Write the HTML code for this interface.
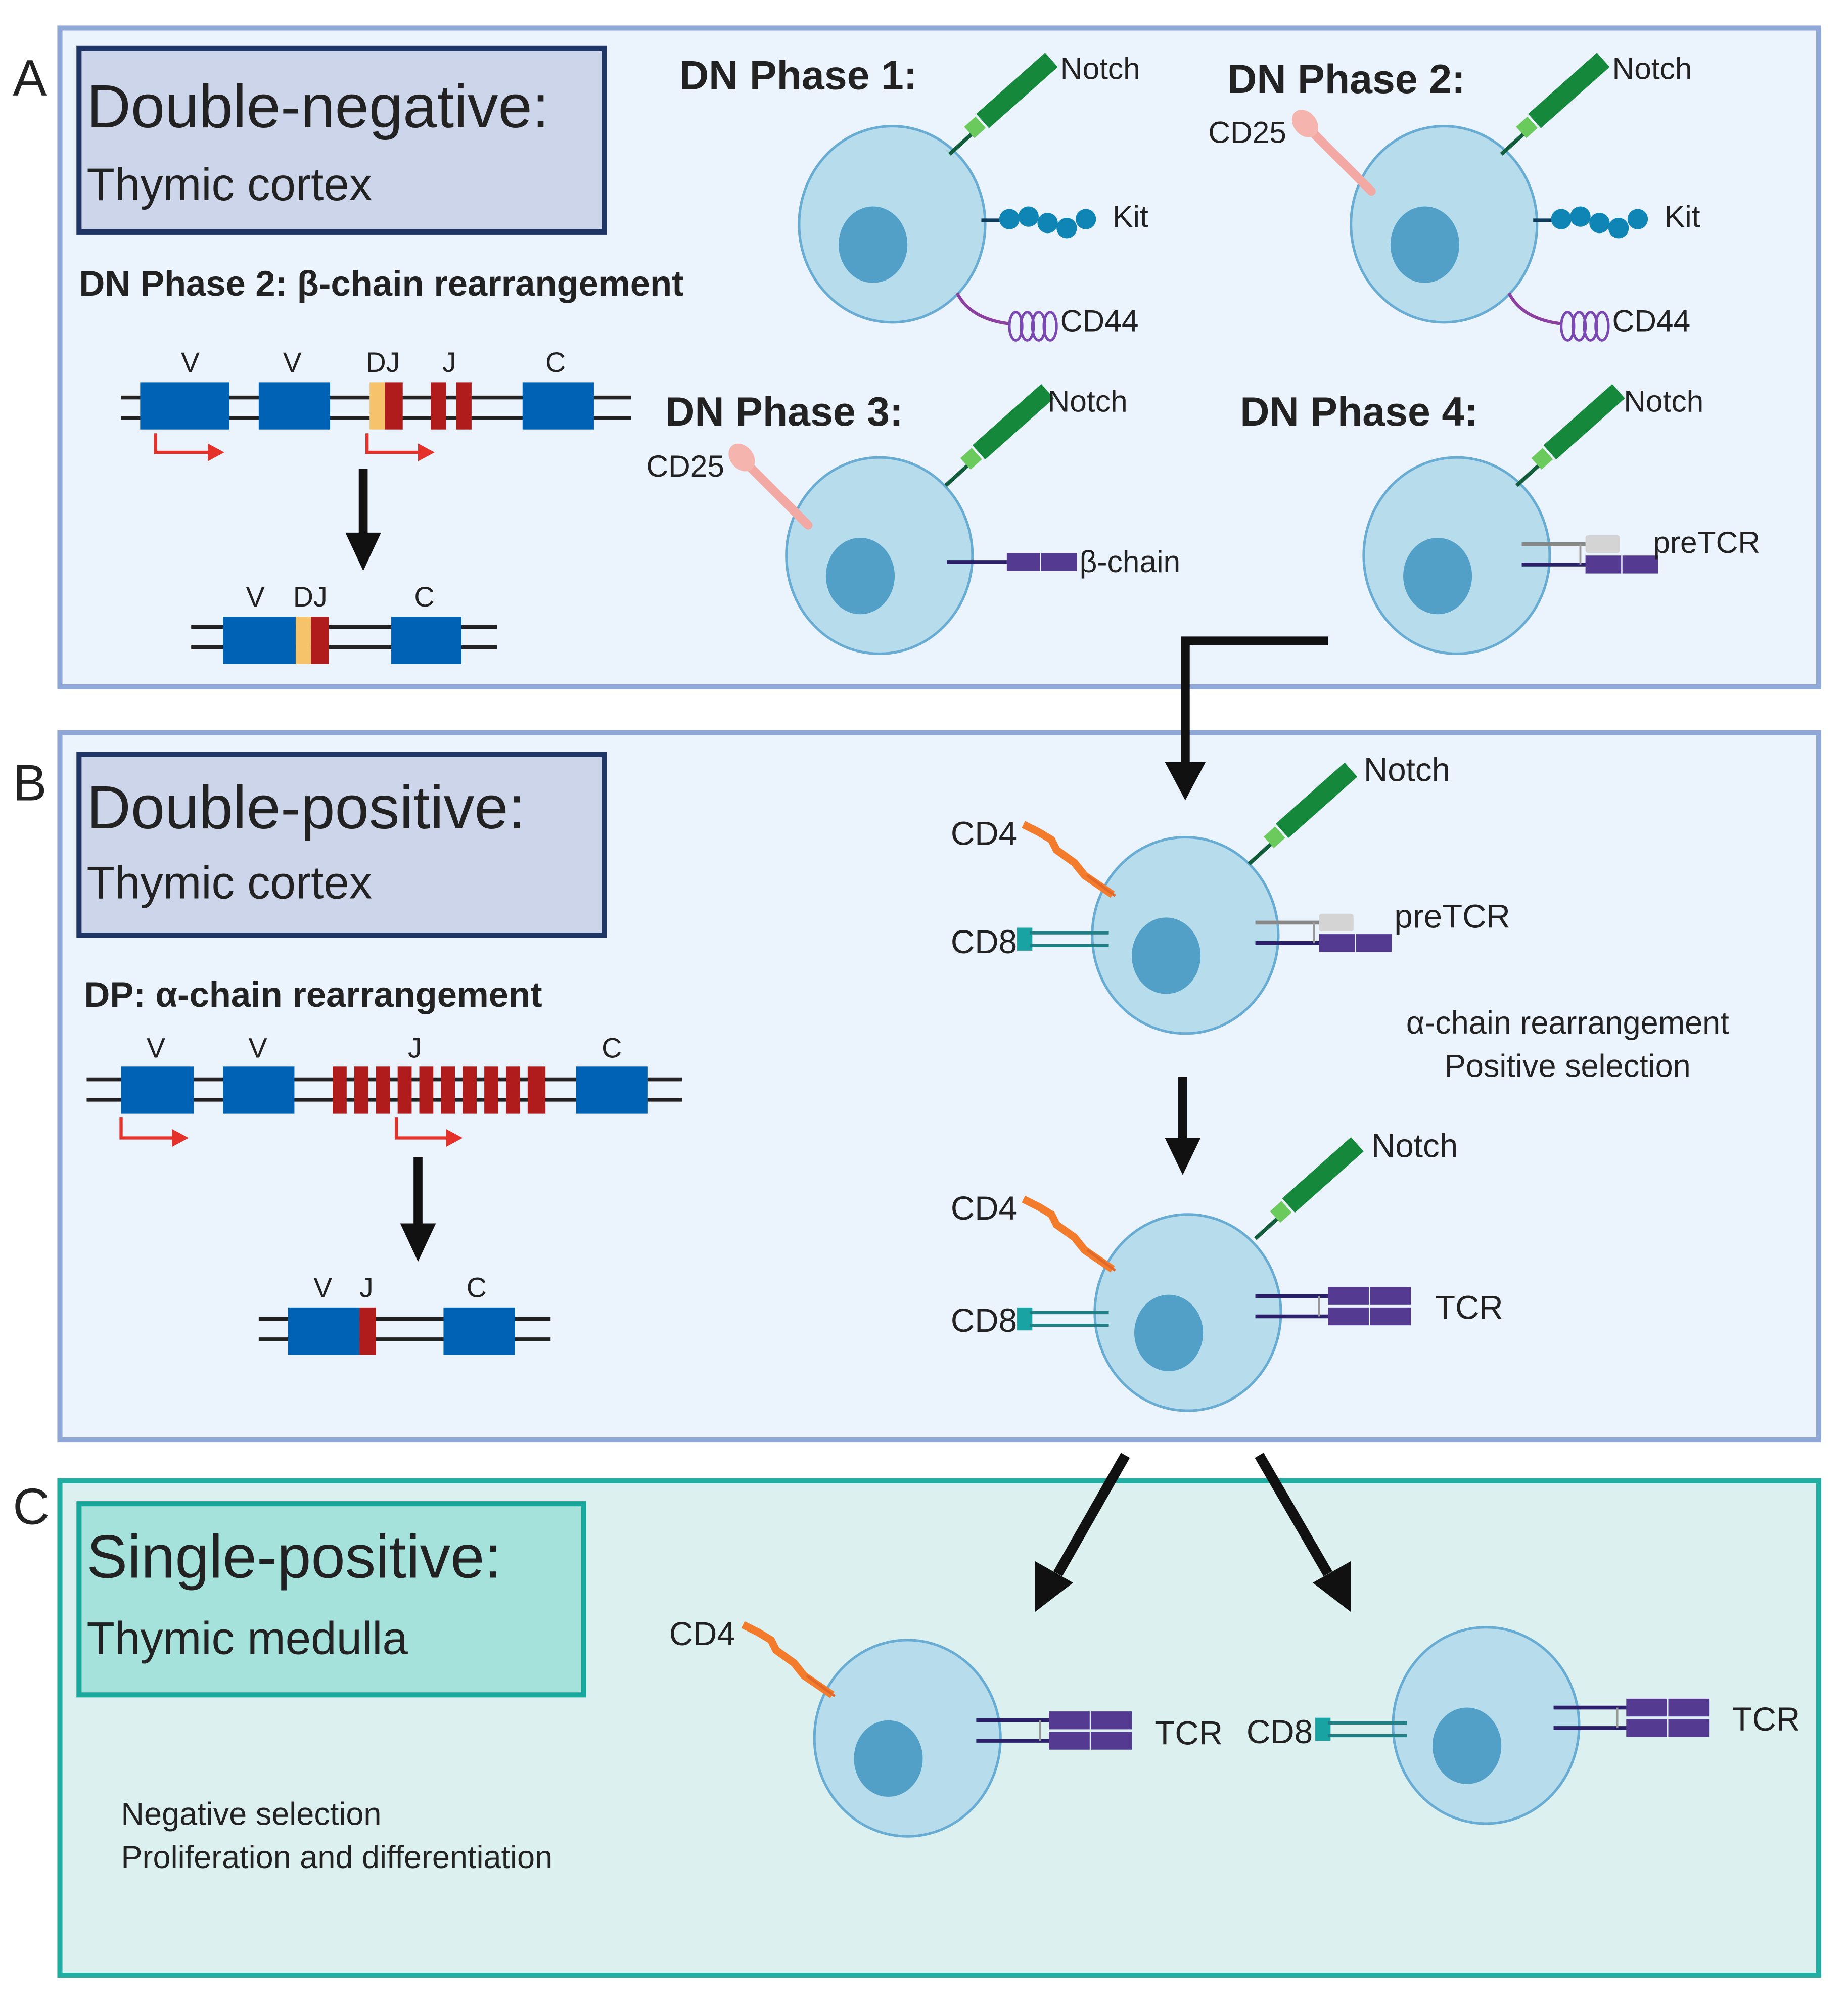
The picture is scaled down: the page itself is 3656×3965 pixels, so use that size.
<!DOCTYPE html>
<html><head><meta charset="utf-8"><style>html,body{margin:0;padding:0;background:#fff}svg{display:block}text{font-family:"Liberation Sans",sans-serif;fill:#222}</style></head><body>
<svg width="3656" height="3965" viewBox="0 0 1450 1572.6" preserveAspectRatio="none" xmlns="http://www.w3.org/2000/svg">
<defs>
<g id="cell"><ellipse cx="0" cy="0" rx="73" ry="77" fill="#b7dcec" stroke="#68acd3" stroke-width="2"/><ellipse cx="-15" cy="16" rx="27" ry="30" fill="#52a0c8"/></g>
<g id="notch"><line x1="0" y1="0" x2="22" y2="-20" stroke="#115c3a" stroke-width="3"/><rect x="14" y="-27" width="12" height="12" fill="#6acb5c" transform="rotate(-42 20 -21)"/><line x1="26" y1="-26" x2="80" y2="-74" stroke="#15883c" stroke-width="15"/></g>
<g id="cd4"><path d="M0,0 L12,6 L22,12 L26,20 L40,30 L48,40 L70,55" stroke="#f27b2c" stroke-width="6" fill="none"/><line x1="50" y1="40" x2="72" y2="56" stroke="#e0682a" stroke-width="2"/></g>
<g id="cd8"><rect x="0" y="0" width="12" height="18" fill="#1aa3a3"/><line x1="10" y1="4" x2="72" y2="4" stroke="#217f86" stroke-width="2.5"/><line x1="10" y1="14" x2="72" y2="14" stroke="#217f86" stroke-width="2.5"/></g>
<g id="tcr"><line x1="0" y1="0" x2="58" y2="0" stroke="#2b1f6a" stroke-width="3"/><line x1="0" y1="16" x2="58" y2="16" stroke="#2b1f6a" stroke-width="3"/><line x1="50" y1="0" x2="50" y2="16" stroke="#999" stroke-width="1.5"/><rect x="57" y="-7" width="32" height="14" fill="#553a92"/><rect x="90" y="-7" width="32" height="14" fill="#553a92"/><rect x="57" y="9" width="32" height="14" fill="#553a92"/><rect x="90" y="9" width="32" height="14" fill="#553a92"/></g>
<g id="pretcr"><line x1="0" y1="0" x2="52" y2="0" stroke="#888" stroke-width="3"/><line x1="0" y1="16" x2="52" y2="16" stroke="#2b1f6a" stroke-width="3"/><line x1="46" y1="0" x2="46" y2="16" stroke="#999" stroke-width="1.5"/><rect x="50" y="-7" width="27" height="14" rx="2" fill="#d4d4d4"/><rect x="50" y="9" width="28" height="14" fill="#553a92"/><rect x="79" y="9" width="28" height="14" fill="#553a92"/></g>
<g id="kit"><line x1="0" y1="0" x2="18" y2="0" stroke="#103c5c" stroke-width="3"/><circle cx="22" cy="-1" r="8" fill="#0e85b5"/><circle cx="37" cy="-3" r="8" fill="#0e85b5"/><circle cx="52" cy="2" r="8" fill="#0e85b5"/><circle cx="67" cy="6" r="8" fill="#0e85b5"/><circle cx="82" cy="-1" r="8" fill="#0e85b5"/></g>
<g id="cd44"><path d="M0,0 Q10,20 40,24" stroke="#8b3f9f" stroke-width="2.5" fill="none"/><ellipse cx="46" cy="26" rx="5" ry="11" fill="none" stroke="#7b47b0" stroke-width="2"/><ellipse cx="55" cy="26" rx="5" ry="11" fill="none" stroke="#7b47b0" stroke-width="2"/><ellipse cx="64" cy="26" rx="5" ry="11" fill="none" stroke="#7b47b0" stroke-width="2"/><ellipse cx="73" cy="26" rx="5" ry="11" fill="none" stroke="#7b47b0" stroke-width="2"/></g>
<g id="cd25"><line x1="0" y1="0" x2="50" y2="50" stroke="#f2a9a4" stroke-width="7" stroke-linecap="round"/><ellipse cx="-2" cy="-3" rx="9" ry="12" fill="#f5b5ae" transform="rotate(-40 -2 -3)"/></g>
</defs>

<!-- Panels -->
<rect x="47" y="22" width="1380" height="517" fill="#ebf3fc" stroke="#8fa8d8" stroke-width="4"/>
<rect x="47" y="575" width="1380" height="555" fill="#ebf3fc" stroke="#8fa8d8" stroke-width="4"/>
<rect x="47" y="1162" width="1380" height="388" fill="#dcf1ef" stroke="#22aea3" stroke-width="4"/>
<text x="10" y="75" font-size="40">A</text>
<text x="10" y="628" font-size="40">B</text>
<text x="10" y="1196" font-size="40">C</text>

<rect x="62" y="38" width="412" height="144" fill="#ccd5e9" stroke="#1f3566" stroke-width="4"/>
<text x="68" y="100" font-size="48">Double-negative:</text>
<text x="68" y="157" font-size="36">Thymic cortex</text>
<rect x="62" y="592" width="412" height="142" fill="#ccd5e9" stroke="#1f3566" stroke-width="4"/>
<text x="68" y="650" font-size="48">Double-positive:</text>
<text x="68" y="705" font-size="36">Thymic cortex</text>
<rect x="62" y="1180" width="396" height="150" fill="#a6e2dc" stroke="#1aa79c" stroke-width="4"/>
<text x="68" y="1238" font-size="48">Single-positive:</text>
<text x="68" y="1298" font-size="36">Thymic medulla</text>

<!-- A gene -->
<text x="62" y="232" font-size="28" font-weight="bold" fill="#333">DN Phase 2: β-chain rearrangement</text>
<line x1="95" y1="312" x2="495" y2="312" stroke="#222" stroke-width="3"/>
<line x1="95" y1="328" x2="495" y2="328" stroke="#222" stroke-width="3"/>
<rect x="110" y="300" width="70" height="37" fill="#0062b4"/>
<rect x="203" y="300" width="56" height="37" fill="#0062b4"/>
<rect x="290" y="300" width="12" height="37" fill="#f6c26a"/>
<rect x="302" y="300" width="14" height="37" fill="#b01c1c"/>
<rect x="338" y="300" width="12" height="37" fill="#b01c1c"/>
<rect x="358" y="300" width="12" height="37" fill="#b01c1c"/>
<rect x="410" y="300" width="56" height="37" fill="#0062b4"/>
<text x="142" y="292" font-size="22">V</text><text x="222" y="292" font-size="22">V</text><text x="287" y="292" font-size="22">DJ</text><text x="347" y="292" font-size="22">J</text><text x="428" y="292" font-size="22">C</text>
<path d="M122,340 V355 H165" stroke="#e4322a" stroke-width="2.5" fill="none"/><path d="M163,348 L176,355 L163,362Z" fill="#e4322a"/>
<path d="M288,340 V355 H330" stroke="#e4322a" stroke-width="2.5" fill="none"/><path d="M328,348 L341,355 L328,362Z" fill="#e4322a"/>
<line x1="285" y1="368" x2="285" y2="420" stroke="#111" stroke-width="7"/><path d="M271,418 L299,418 L285,448Z" fill="#111"/>
<line x1="150" y1="492" x2="390" y2="492" stroke="#222" stroke-width="3"/>
<line x1="150" y1="508" x2="390" y2="508" stroke="#222" stroke-width="3"/>
<rect x="175" y="484" width="57" height="37" fill="#0062b4"/><rect x="232" y="484" width="12" height="37" fill="#f6c26a"/><rect x="244" y="484" width="14" height="37" fill="#b01c1c"/><rect x="307" y="484" width="55" height="37" fill="#0062b4"/>
<text x="193" y="476" font-size="22">V</text><text x="230" y="476" font-size="22">DJ</text><text x="325" y="476" font-size="22">C</text>

<!-- DN cells -->
<text x="533" y="70" font-size="32" font-weight="bold" fill="#333">DN Phase 1:</text>
<text x="963" y="73" font-size="32" font-weight="bold" fill="#333">DN Phase 2:</text>
<text x="522" y="334" font-size="32" font-weight="bold" fill="#333">DN Phase 3:</text>
<text x="973" y="334" font-size="32" font-weight="bold" fill="#333">DN Phase 4:</text>

<use href="#cell" x="700" y="176"/><use href="#notch" x="745" y="121"/><use href="#kit" x="770" y="173"/><use href="#cd44" x="751" y="230"/>
<text x="832" y="62" font-size="24">Notch</text><text x="873" y="178" font-size="24">Kit</text><text x="832" y="260" font-size="24">CD44</text>

<use href="#cell" x="1133" y="176"/><use href="#notch" x="1178" y="121"/><use href="#kit" x="1203" y="173"/><use href="#cd44" x="1184" y="230"/><use href="#cd25" x="1026" y="100"/>
<text x="1265" y="62" font-size="24">Notch</text><text x="1306" y="178" font-size="24">Kit</text><text x="1265" y="260" font-size="24">CD44</text><text x="948" y="112" font-size="24">CD25</text>

<use href="#cell" x="690" y="436"/><use href="#notch" x="742" y="381"/><use href="#cd25" x="584" y="362"/>
<line x1="743" y1="441" x2="790" y2="441" stroke="#2b1f6a" stroke-width="3"/><rect x="790" y="434" width="26" height="14" fill="#553a92"/><rect x="817" y="434" width="28" height="14" fill="#553a92"/>
<text x="822" y="323" font-size="24">Notch</text><text x="507" y="374" font-size="24">CD25</text><text x="847" y="449" font-size="24">β-chain</text>

<use href="#cell" x="1143" y="436"/><use href="#notch" x="1190" y="381"/><use href="#pretcr" x="1194" y="427"/>
<text x="1274" y="323" font-size="24">Notch</text><text x="1297" y="434" font-size="24">preTCR</text>

<!-- connector A->B -->
<path d="M1042,503 H930 V600" stroke="#111" stroke-width="7" fill="none"/><path d="M914,598 L946,598 L930,628Z" fill="#111"/>

<!-- B gene -->
<text x="66" y="790" font-size="28" font-weight="bold" fill="#333">DP: α-chain rearrangement</text>
<line x1="68" y1="847" x2="535" y2="847" stroke="#222" stroke-width="3"/>
<line x1="68" y1="863" x2="535" y2="863" stroke="#222" stroke-width="3"/>
<rect x="95" y="837" width="57" height="37" fill="#0062b4"/><rect x="175" y="837" width="56" height="37" fill="#0062b4"/><rect x="452" y="837" width="56" height="37" fill="#0062b4"/>
<g fill="#b01c1c"><rect x="261" y="837" width="11" height="37"/><rect x="278" y="837" width="11" height="37"/><rect x="295" y="837" width="11" height="37"/><rect x="312" y="837" width="11" height="37"/><rect x="329" y="837" width="11" height="37"/><rect x="346" y="837" width="11" height="37"/><rect x="363" y="837" width="11" height="37"/><rect x="380" y="837" width="11" height="37"/><rect x="397" y="837" width="11" height="37"/><rect x="414" y="837" width="14" height="37"/></g>
<text x="115" y="830" font-size="22">V</text><text x="195" y="830" font-size="22">V</text><text x="320" y="830" font-size="22">J</text><text x="472" y="830" font-size="22">C</text>
<path d="M95,877 V893 H137" stroke="#e4322a" stroke-width="2.5" fill="none"/><path d="M135,886 L148,893 L135,900Z" fill="#e4322a"/>
<path d="M311,877 V893 H352" stroke="#e4322a" stroke-width="2.5" fill="none"/><path d="M350,886 L363,893 L350,900Z" fill="#e4322a"/>
<line x1="328" y1="908" x2="328" y2="962" stroke="#111" stroke-width="7"/><path d="M314,960 L342,960 L328,990Z" fill="#111"/>
<line x1="203" y1="1035" x2="432" y2="1035" stroke="#222" stroke-width="3"/>
<line x1="203" y1="1051" x2="432" y2="1051" stroke="#222" stroke-width="3"/>
<rect x="226" y="1026" width="56" height="37" fill="#0062b4"/><rect x="282" y="1026" width="13" height="37" fill="#b01c1c"/><rect x="348" y="1026" width="56" height="37" fill="#0062b4"/>
<text x="246" y="1018" font-size="22">V</text><text x="282" y="1018" font-size="22">J</text><text x="366" y="1018" font-size="22">C</text>

<!-- DP cells -->
<use href="#cell" x="930" y="734"/><use href="#notch" x="980" y="678"/><use href="#cd4" x="803" y="647"/><use href="#cd8" x="798" y="728"/><use href="#pretcr" x="985" y="724"/>
<text x="1070" y="613" font-size="26">Notch</text><text x="746" y="663" font-size="26">CD4</text><text x="746" y="748" font-size="26">CD8</text><text x="1094" y="728" font-size="26">preTCR</text>
<text x="1230" y="811" font-size="25" text-anchor="middle">α-chain rearrangement</text>
<text x="1230" y="845" font-size="25" text-anchor="middle">Positive selection</text>
<line x1="928" y1="845" x2="928" y2="895" stroke="#111" stroke-width="7"/><path d="M914,893 L942,893 L928,922Z" fill="#111"/>

<use href="#cell" x="932" y="1030"/><use href="#notch" x="985" y="972"/><use href="#cd4" x="803" y="941"/><use href="#cd8" x="798" y="1026"/><use href="#tcr" x="985" y="1017"/>
<text x="1076" y="908" font-size="26">Notch</text><text x="746" y="957" font-size="26">CD4</text><text x="746" y="1045" font-size="26">CD8</text><text x="1126" y="1035" font-size="26">TCR</text>

<!-- split arrows -->
<line x1="883" y1="1142" x2="830" y2="1235" stroke="#111" stroke-width="8"/><path d="M812,1225 L842,1242 L812,1265Z" fill="#111"/>
<line x1="988" y1="1142" x2="1042" y2="1235" stroke="#111" stroke-width="8"/><path d="M1030,1242 L1060,1225 L1060,1265Z" fill="#111"/>

<!-- SP cells -->
<use href="#cell" x="712" y="1364"/><use href="#cd4" x="583" y="1275"/><use href="#tcr" x="766" y="1350"/>
<text x="525" y="1291" font-size="26">CD4</text><text x="906" y="1369" font-size="26">TCR</text>
<use href="#cell" x="1166" y="1354"/><use href="#cd8" x="1032" y="1348"/><use href="#tcr" x="1219" y="1340"/>
<text x="978" y="1368" font-size="26">CD8</text><text x="1359" y="1358" font-size="26">TCR</text>
<text x="95" y="1432" font-size="25">Negative selection</text>
<text x="95" y="1466" font-size="25">Proliferation and differentiation</text>
</svg>
</body></html>
